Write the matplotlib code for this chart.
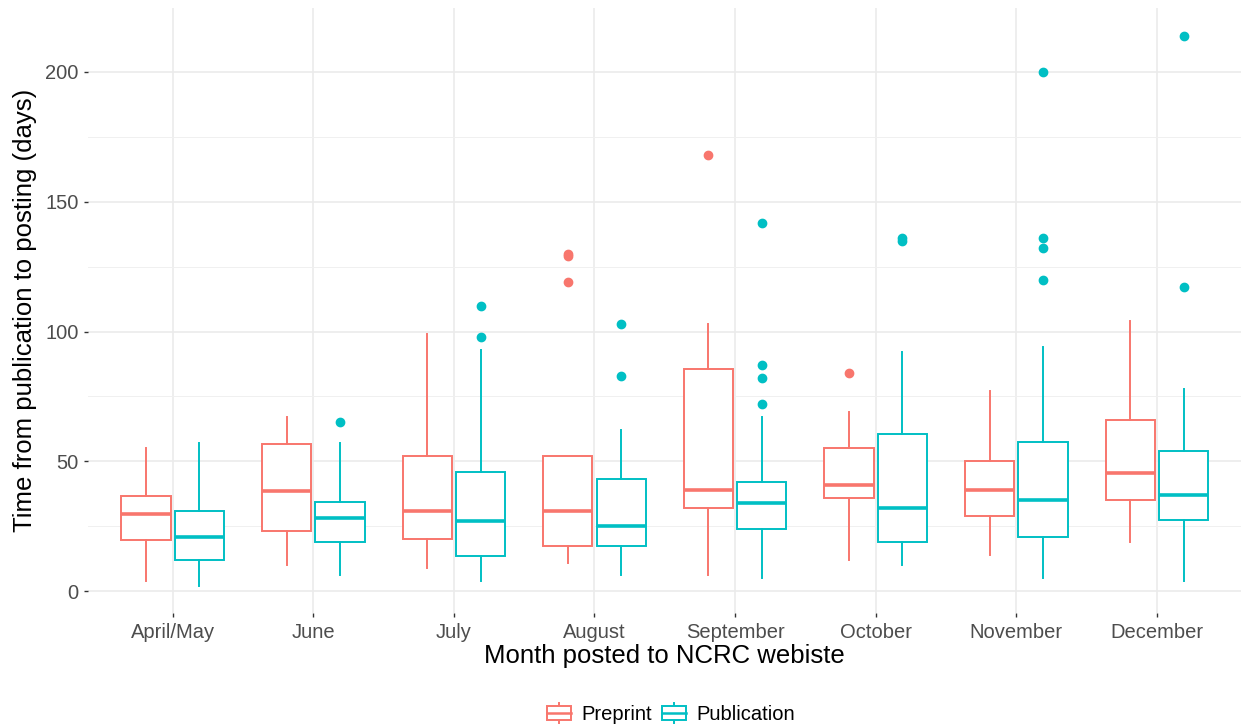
import matplotlib
matplotlib.use("Agg")
import matplotlib.pyplot as plt
from matplotlib.patches import Patch, Rectangle
from matplotlib.lines import Line2D
from matplotlib.ticker import MultipleLocator

plt.rcParams['font.family'] = ['Liberation Sans', 'DejaVu Sans']

months = ["April/May", "June", "July", "August", "September", "October", "November", "December"]

# Preprint box stats (days)
pre_lo = [4, 10, 9, 11, 6, 12, 14, 19]
pre_q1 = [19.5, 23, 20, 17.5, 32, 36, 29, 35]
pre_med = [29.5, 38.5, 31, 31, 39, 41, 39, 45.5]
pre_q3 = [36.5, 56.5, 52, 52, 85.5, 55, 50, 66]
pre_hi = [55, 67, 99, 52, 103, 69, 77, 104]
pre_out = [[], [], [], [119, 129, 130], [168], [84], [], []]

# Publication box stats (days)
pub_lo = [2, 6, 4, 6, 5, 10, 5, 4]
pub_q1 = [12, 19, 13.5, 17.5, 24, 19, 21, 27.5]
pub_med = [21, 28, 27, 25, 34, 32, 35, 37]
pub_q3 = [31, 34.5, 46, 43, 42, 60.5, 57.5, 54]
pub_hi = [57, 57, 93, 62, 67, 92, 94, 78]
pub_out = [[], [65], [98, 110], [83, 103], [72, 82, 87, 142], [135, 136], [120, 132, 136, 200], [117, 214]]

groups = [
    ("Preprint", "#F8766D", -0.19, pre_lo, pre_q1, pre_med, pre_q3, pre_hi, pre_out),
    ("Publication", "#00BFC4", 0.19, pub_lo, pub_q1, pub_med, pub_q3, pub_hi, pub_out),
]


class BoxKeyHandler:
    """Legend key that looks like a small boxplot (ggplot style)."""
    def legend_artist(self, legend, orig_handle, fontsize, handlebox):
        x0, y0 = -handlebox.xdescent, -handlebox.ydescent
        w, h = handlebox.width, handlebox.height
        c = orig_handle.get_edgecolor()
        tr = handlebox.get_transform()
        bh = h * 0.8
        cy = y0 + h / 2
        whisk = Line2D([x0 + w / 2] * 2, [cy - h * 0.58, cy + h * 0.58], color=c, lw=1.4, transform=tr)
        box = Rectangle((x0, cy - bh / 2), w, bh, facecolor='white', edgecolor=c, lw=1.4, transform=tr)
        med = Line2D([x0, x0 + w], [cy] * 2, color=c, lw=1.8, transform=tr)
        for a in (whisk, box, med):
            handlebox.add_artist(a)
        return box


fig = plt.figure(figsize=(12.43, 7.27), dpi=100)
ax = fig.add_axes([0.071, 0.157, 0.9276, 0.8318])

x = list(range(1, len(months) + 1))
handles = []
for name, color, offset, lo, q1, med, q3, hi, out in groups:
    stats = []
    for i in range(len(months)):
        stats.append(dict(med=med[i], q1=q1[i], q3=q3[i], whislo=lo[i], whishi=hi[i], fliers=out[i]))
    ax.bxp(stats, positions=[xi + offset for xi in x], widths=0.35, showcaps=False,
           patch_artist=True, manage_ticks=False,
           boxprops=dict(facecolor='white', edgecolor=color, linewidth=1.4),
           medianprops=dict(color=color, linewidth=2.6, solid_capstyle='butt'),
           whiskerprops=dict(color=color, linewidth=1.4),
           flierprops=dict(marker='o', markerfacecolor=color, markeredgecolor=color, markersize=6))
    handles.append(Patch(facecolor='white', edgecolor=color, linewidth=1.4))

ax.set_xlim(0.4, len(months) + 0.6)
ax.set_ylim(-8.4, 224.6)
ax.set_xticks(x)
ax.set_xticklabels(months)
ax.yaxis.set_major_locator(MultipleLocator(50))
ax.yaxis.set_minor_locator(MultipleLocator(25))

ax.grid(True, which='major', color='#EBEBEB', linewidth=1.2)
ax.grid(True, which='minor', axis='y', color='#F0F0F0', linewidth=0.7)
ax.set_axisbelow(True)
for s in ax.spines.values():
    s.set_visible(False)
ax.tick_params(axis='both', which='major', length=3, width=1, color='#333333',
               labelsize=14.5, labelcolor='#4D4D4D', pad=4)
ax.tick_params(axis='y', which='minor', length=0)

ax.set_xlabel('Month posted to NCRC webiste', fontsize=18.5, labelpad=2)
ax.set_ylabel('Time from publication to posting (days)', fontsize=18.5, labelpad=6)

fig.legend(handles, ["Preprint", "Publication"], loc='center', bbox_to_anchor=(0.54, 0.018),
           ncol=2, frameon=False, fontsize=14.5, handlelength=1.2, handleheight=1.0,
           handletextpad=0.5, columnspacing=0.5, handler_map={Patch: BoxKeyHandler()})

fig.savefig('out.png', dpi=100)
